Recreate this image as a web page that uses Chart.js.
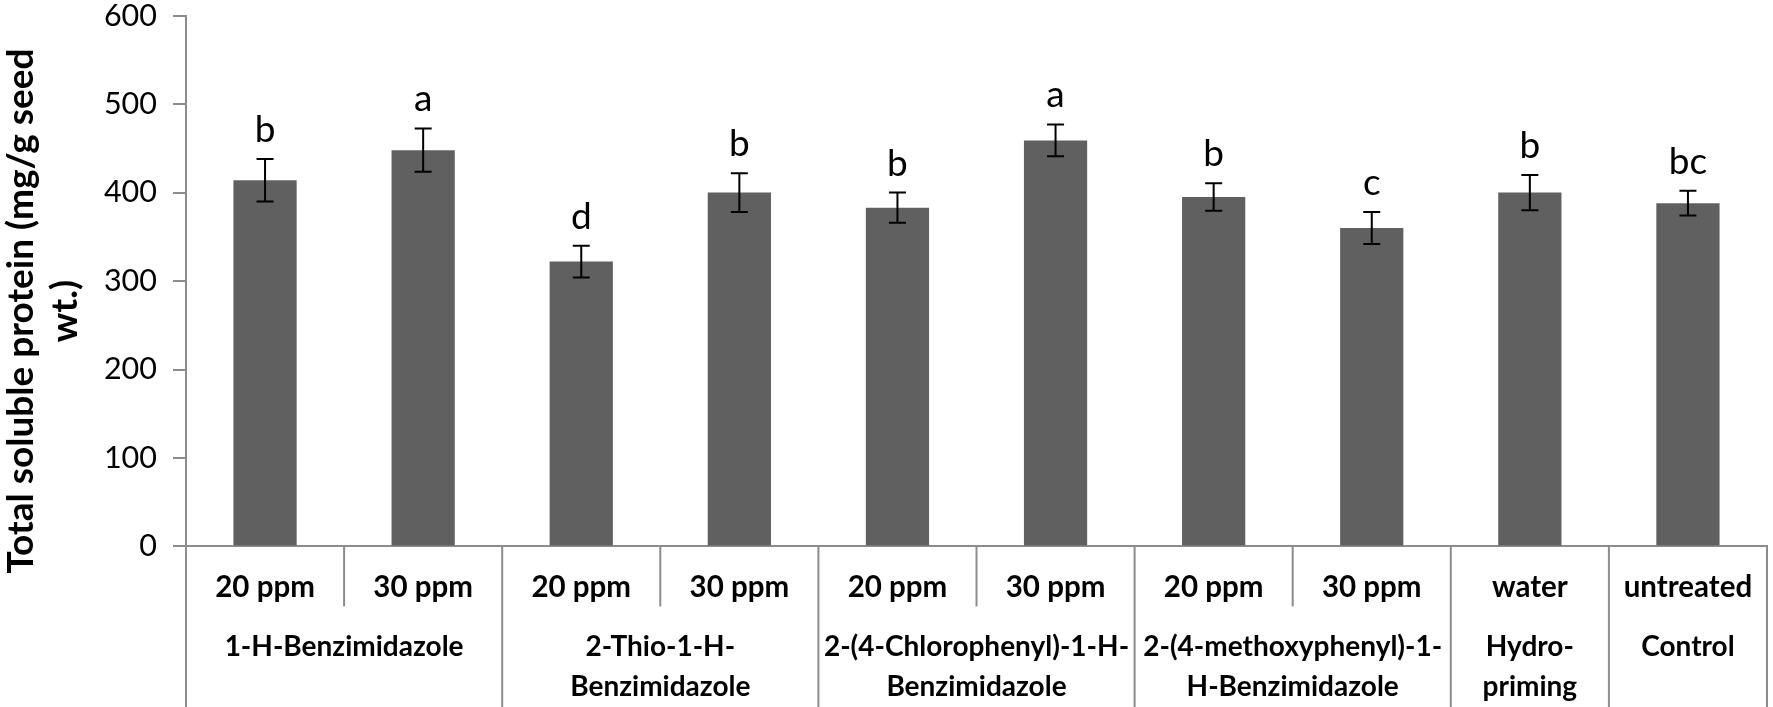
<!DOCTYPE html>
<html><head><meta charset="utf-8">
<script src="https://cdn.jsdelivr.net/npm/chart.js@4"></script>
<style>html,body{margin:0;padding:0;background:#fff;overflow:hidden}#wrap{width:1773px;height:707px;position:relative}</style>
</head><body><div id="wrap"><canvas id="c"></canvas></div>
<script>
const subLabels = ['20 ppm','30 ppm','20 ppm','30 ppm','20 ppm','30 ppm','20 ppm','30 ppm','water','untreated'];
const groupLabels = [['1-H-Benzimidazole'],['2-Thio-1-H-','Benzimidazole'],['2-(4-Chlorophenyl)-1-H-','Benzimidazole'],['2-(4-methoxyphenyl)-1-','H-Benzimidazole'],['Hydro-','priming'],['Control']];
const groupSpans = [2,2,2,2,1,1];
const values = [414, 448, 322, 400, 383, 459, 395, 360, 400, 388];
const errors = [24, 24.5, 18, 22, 17, 18, 15.5, 18, 20, 14];
const letters = ['b','a','d','b','b','a','b','c','b','bc'];
const yTitle = ['Total soluble protein (mg/g seed','wt.)'];
const yMin = 0, yMax = 600, yStep = 100;

const FONT = 'Lato';
const groupCenters = [];
(function(){ let s = 0; groupSpans.forEach(n => { groupCenters.push(s + n/2 - 0.5); s += n; }); })();
const groupBounds = [-0.5];
(function(){ let s = 0; groupSpans.forEach(n => { s += n; groupBounds.push(s - 0.5); }); })();

const AXIS = '#8c8c8c';
const decor = {
  id: 'decor',
  afterDatasetsDraw(chart) {
    const ctx = chart.ctx, x = chart.scales.x, y = chart.scales.y;
    const meta = chart.getDatasetMeta(0);
    ctx.save();
    meta.data.forEach((bar, i) => {
      const cx = bar.x;
      const yt = y.getPixelForValue(values[i] + errors[i]);
      const yb = y.getPixelForValue(values[i] - errors[i]);
      ctx.strokeStyle = '#000'; ctx.lineWidth = 2;
      ctx.beginPath();
      ctx.moveTo(cx, yt); ctx.lineTo(cx, yb);
      ctx.moveTo(cx - 8.5, yt); ctx.lineTo(cx + 8.5, yt);
      ctx.moveTo(cx - 8.5, yb); ctx.lineTo(cx + 8.5, yb);
      ctx.stroke();
      ctx.fillStyle = '#000'; ctx.font = '37px ' + FONT;
      ctx.textAlign = 'center'; ctx.textBaseline = 'alphabetic';
      ctx.fillText(letters[i], cx, yt - 17);
    });
    // category / group separators
    ctx.strokeStyle = AXIS; ctx.lineWidth = 2;
    const top = chart.chartArea.bottom, H = chart.height;
    for (let b = -0.5; b <= subLabels.length - 0.5; b += 1) {
      const px = x.getPixelForValue(b);
      const full = groupBounds.includes(b);
      ctx.beginPath(); ctx.moveTo(px, top); ctx.lineTo(px, full ? H : x.bottom); ctx.stroke();
    }
    // y title
    const ca = chart.chartArea;
    ctx.fillStyle = '#000'; ctx.font = 'bold 37px ' + FONT;
    ctx.textAlign = 'center'; ctx.textBaseline = 'alphabetic';
    yTitle.forEach((line, k) => {
      ctx.save();
      ctx.translate(33 + k * 44, (ca.top + ca.bottom) / 2 + 30);
      ctx.rotate(-Math.PI / 2);
      ctx.fillText(line, 0, 0);
      ctx.restore();
    });
    ctx.restore();
  }
};

new Chart(document.getElementById('c'), {
  type: 'bar',
  data: {
    labels: subLabels,
    datasets: [{ data: values, backgroundColor: '#606060', borderWidth: 0, barPercentage: 0.4, categoryPercentage: 1 }]
  },
  options: {
    responsive: true, maintainAspectRatio: false, animation: false,
    layout: { padding: { top: 15.7, right: 6, left: 0, bottom: 0 } },
    plugins: { legend: { display: false }, tooltip: { enabled: false } },
    scales: {
      x: {
        ticks: { font: { family: FONT, size: 29.5, weight: 'bold' }, color: '#000', padding: 23, maxRotation: 0, autoSkip: false },
        grid: { display: false, drawTicks: false },
        border: { display: true, color: AXIS, width: 2 },
        afterFit(s) { s.height = 60; s.paddingLeft = 0; s.paddingRight = 0; }
      },
      x2: {
        type: 'linear', position: 'bottom', min: -0.5, max: 9.5, offset: false,
        afterBuildTicks(s) { s.ticks = groupCenters.map(v => ({ value: v })); },
        ticks: { callback: (v, i) => groupLabels[i], font: { family: FONT, size: 28, weight: 'bold', lineHeight: 1.43 }, color: '#000', padding: 21, maxRotation: 0, autoSkip: false },
        grid: { display: false, drawTicks: false },
        border: { display: false },
        afterFit(s) { s.height = 100.6; s.paddingLeft = 0; s.paddingRight = 0; }
      },
      y: {
        min: yMin, max: yMax,
        ticks: { stepSize: yStep, font: { family: FONT, size: 30.5 }, color: '#000', padding: 16 },
        grid: { drawOnChartArea: false, drawTicks: true, tickLength: 13, color: AXIS, lineWidth: 2 },
        border: { display: true, color: AXIS, width: 2 },
        afterFit(s) { s.width = 186; s.paddingTop = 0; s.paddingBottom = 0; }
      }
    }
  },
  plugins: [decor]
});
</script></body></html>
